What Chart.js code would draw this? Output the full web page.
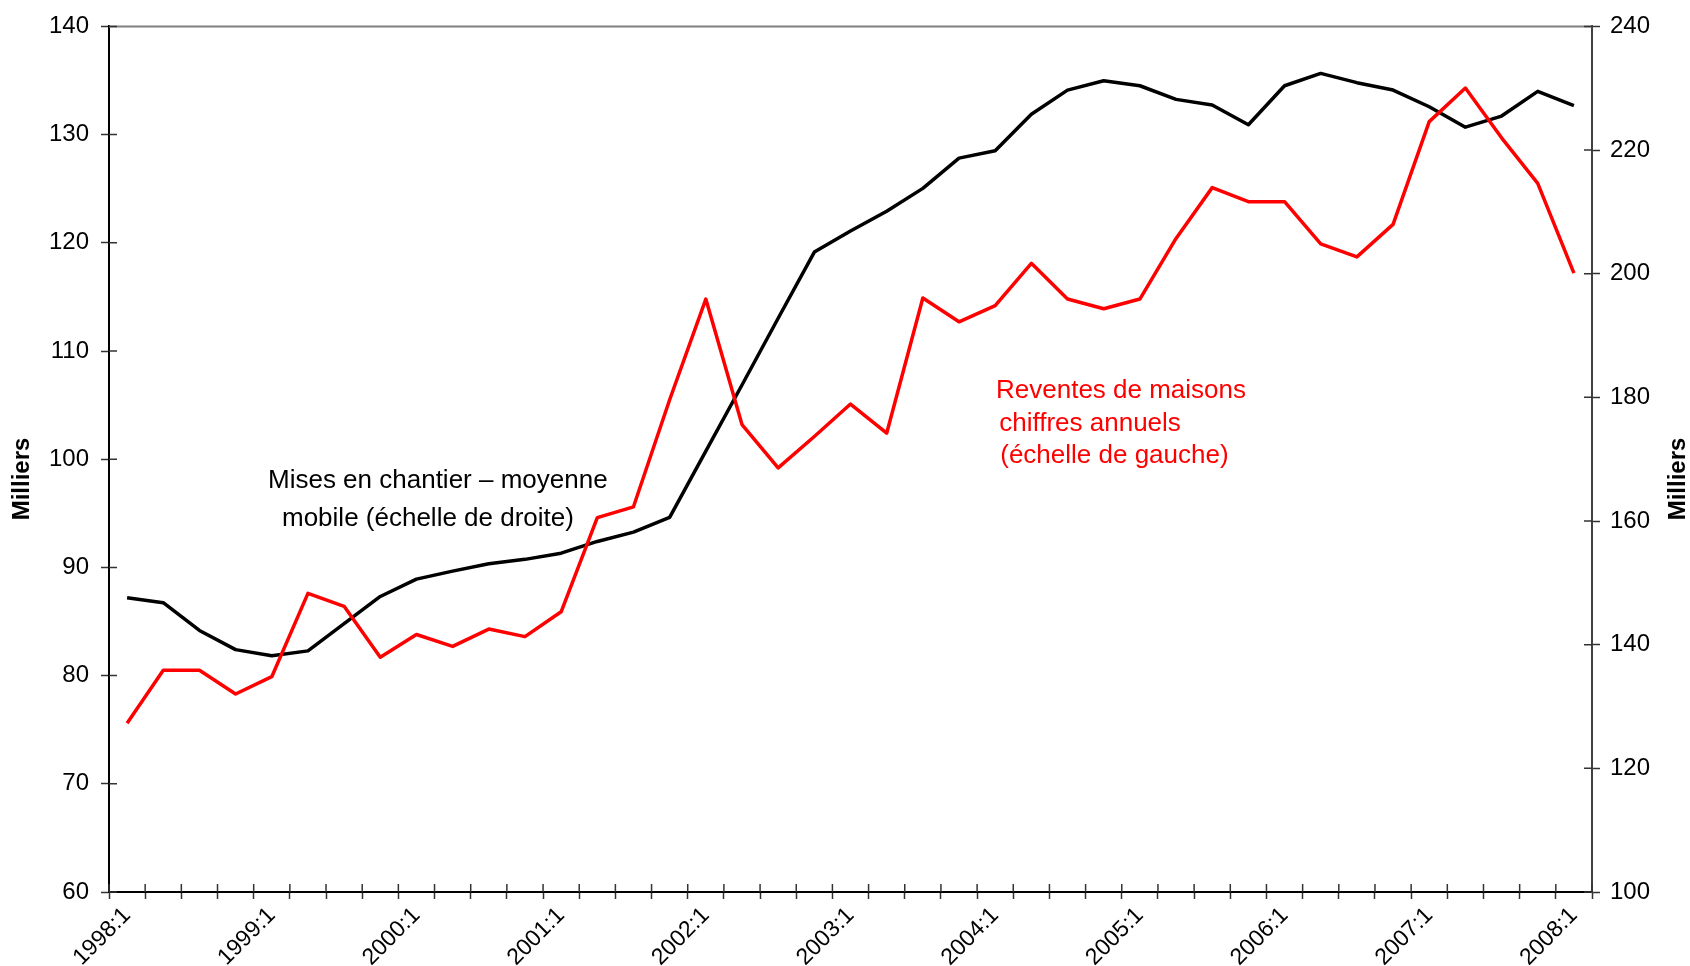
<!DOCTYPE html>
<html>
<head>
<meta charset="utf-8">
<script src="https://cdn.jsdelivr.net/npm/chart.js@4.4.0/dist/chart.umd.min.js"></script>
<style>
  html, body { margin: 0; padding: 0; background: #fff; }
  #wrap { width: 1690px; height: 966px; position: relative; }
</style>
</head>
<body>
<div id="wrap"><canvas id="my-chart"></canvas></div>
<script>
// quarters on the x axis
const quarters = [
  '1998:1', '1998:2', '1998:3', '1998:4',
  '1999:1', '1999:2', '1999:3', '1999:4',
  '2000:1', '2000:2', '2000:3', '2000:4',
  '2001:1', '2001:2', '2001:3', '2001:4',
  '2002:1', '2002:2', '2002:3', '2002:4',
  '2003:1', '2003:2', '2003:3', '2003:4',
  '2004:1', '2004:2', '2004:3', '2004:4',
  '2005:1', '2005:2', '2005:3', '2005:4',
  '2006:1', '2006:2', '2006:3', '2006:4',
  '2007:1', '2007:2', '2007:3', '2007:4',
  '2008:1',
];
const shownLabels = ['1998:1', '1999:1', '2000:1', '2001:1', '2002:1', '2003:1',
  '2004:1', '2005:1', '2006:1', '2007:1', '2008:1'];

// Reventes de maisons, chiffres annuels (left scale, milliers)
const reventes = [
  75.6, 80.5, 80.5, 78.3, 79.9, 87.6, 86.4, 81.7, 83.8, 82.7,
  84.3, 83.6, 85.9, 94.6, 95.6, 105.5, 114.8, 103.2, 99.2, 102.1,
  105.1, 102.4, 114.9, 112.7, 114.2, 118.1, 114.8, 113.9, 114.8, 120.4,
  125.1, 123.8, 123.8, 119.9, 118.7, 121.7, 131.2, 134.3, 129.7, 125.5,
  117.2,
];

// Mises en chantier, moyenne mobile (right scale, milliers)
const misesEnChantier = [
  147.6, 146.8, 142.3, 139.2, 138.2, 139.0, 143.4, 147.8, 150.6, 151.9,
  153.1, 153.8, 154.8, 156.7, 158.2, 160.6, 171.3, 182.0, 192.8, 203.5,
  206.9, 210.1, 213.8, 218.7, 219.9, 225.8, 229.7, 231.2, 230.4, 228.2,
  227.3, 224.1, 230.4, 232.4, 230.9, 229.7, 227.0, 223.7, 225.5, 229.5,
  227.2,
];

// axis ranges
const leftMin = 60, leftMax = 140, leftStep = 10;
const rightMin = 100, rightMax = 240, rightStep = 20;

const tickFont = { family: 'Liberation Sans, Arial, sans-serif', size: 24 };

// extra drawing: inner half of tick marks, top border, notes, axis titles
const extras = {
  id: 'extras',
  afterDraw(chart) {
    const ctx = chart.ctx;
    const x = chart.scales.x;
    const y = chart.scales.y;
    const y1 = chart.scales.y1;
    const area = chart.chartArea;
    ctx.save();

    // top border
    ctx.strokeStyle = '#808080';
    ctx.lineWidth = 2;
    ctx.beginPath();
    ctx.moveTo(area.left, y.getPixelForValue(leftMax));
    ctx.lineTo(area.right, y.getPixelForValue(leftMax));
    ctx.stroke();

    // inner tick marks
    ctx.lineWidth = 1.5;
    ctx.strokeStyle = '#333';
    ctx.beginPath();
    for (let i = 0; i <= quarters.length; i++) {
      const px = x.getPixelForValue(i - 0.5);
      ctx.moveTo(px, area.bottom);
      ctx.lineTo(px, area.bottom - 8);
    }
    for (let v = leftMin; v <= leftMax; v += leftStep) {
      const py = y.getPixelForValue(v);
      ctx.moveTo(area.left, py);
      ctx.lineTo(area.left + 8, py);
    }
    for (let v = rightMin; v <= rightMax; v += rightStep) {
      const py = y1.getPixelForValue(v);
      ctx.moveTo(area.right, py);
      ctx.lineTo(area.right - 8, py);
    }
    ctx.stroke();

    // notes
    ctx.font = '26px Liberation Sans, Arial, sans-serif';
    ctx.textBaseline = 'alphabetic';
    ctx.textAlign = 'left';
    ctx.fillStyle = '#000';
    ctx.fillText('Mises en chantier \u2013 moyenne', 268, 488);
    ctx.fillText('mobile (\u00e9chelle de droite)', 282, 526);
    ctx.fillStyle = '#ff0000';
    ctx.fillText('Reventes de maisons', 996, 398);
    ctx.fillText(' chiffres annuels', 992, 431);
    ctx.fillText(' (\u00e9chelle de gauche)', 993, 463);

    // axis titles
    ctx.fillStyle = '#000';
    ctx.font = 'bold 24px Liberation Sans, Arial, sans-serif';
    ctx.textAlign = 'center';
    ctx.textBaseline = 'middle';
    [[22, 479], [1678, 479]].forEach(([tx, ty]) => {
      ctx.save();
      ctx.translate(tx, ty);
      ctx.rotate(-Math.PI / 2);
      ctx.fillText('Milliers', 0, 0);
      ctx.restore();
    });

    ctx.restore();
  },
};

const ctx = document.getElementById('my-chart').getContext('2d');

const myChart = new Chart(ctx, {
  type: 'line',
  data: {
    labels: quarters,
    datasets: [
      {
        label: 'Reventes de maisons',
        data: reventes,
        yAxisID: 'y',
        borderColor: '#ff0000',
        borderWidth: 3.5,
        pointRadius: 0,
        tension: 0,
        borderJoinStyle: 'round',
      },
      {
        label: 'Mises en chantier',
        data: misesEnChantier,
        yAxisID: 'y1',
        borderColor: '#000000',
        borderWidth: 3.5,
        pointRadius: 0,
        tension: 0,
        borderJoinStyle: 'round',
      },
    ],
  },
  options: {
    responsive: true,
    maintainAspectRatio: false,
    animation: false,
    layout: { padding: { top: 25, left: 0, right: 0, bottom: 0 } },
    plugins: {
      legend: { display: false },
      tooltip: { enabled: false },
    },
    scales: {
      x: {
        offset: true,
        grid: {
          offset: true,
          drawOnChartArea: false,
          drawTicks: true,
          tickLength: 7,
          tickColor: '#333',
          tickWidth: 1.5,
        },
        border: { display: true, color: '#000', width: 2 },
        ticks: {
          autoSkip: false,
          minRotation: 45,
          maxRotation: 45,
          padding: 3,
          color: '#000',
          font: { family: 'Liberation Sans, Arial, sans-serif', size: 23 },
          callback: (value, index) => (shownLabels.includes(quarters[index]) ? quarters[index] : ''),
        },
        afterFit: (s) => { s.height = 74; },
      },
      y: {
        position: 'left',
        min: leftMin,
        max: leftMax,
        grid: {
          drawOnChartArea: false,
          tickLength: 8,
          tickColor: '#333',
          tickWidth: 1.5,
        },
        border: { display: true, color: '#000', width: 2 },
        ticks: { stepSize: leftStep, padding: 12, color: '#000', font: tickFont },
        afterFit: (s) => { s.width = 109; },
      },
      y1: {
        position: 'right',
        min: rightMin,
        max: rightMax,
        grid: {
          drawOnChartArea: false,
          tickLength: 8,
          tickColor: '#333',
          tickWidth: 1.5,
        },
        border: { display: true, color: '#404040', width: 2 },
        ticks: { stepSize: rightStep, padding: 10, color: '#000', font: tickFont },
        afterFit: (s) => { s.width = 98; },
      },
    },
  },
  plugins: [extras],
});
</script>
</body>
</html>
